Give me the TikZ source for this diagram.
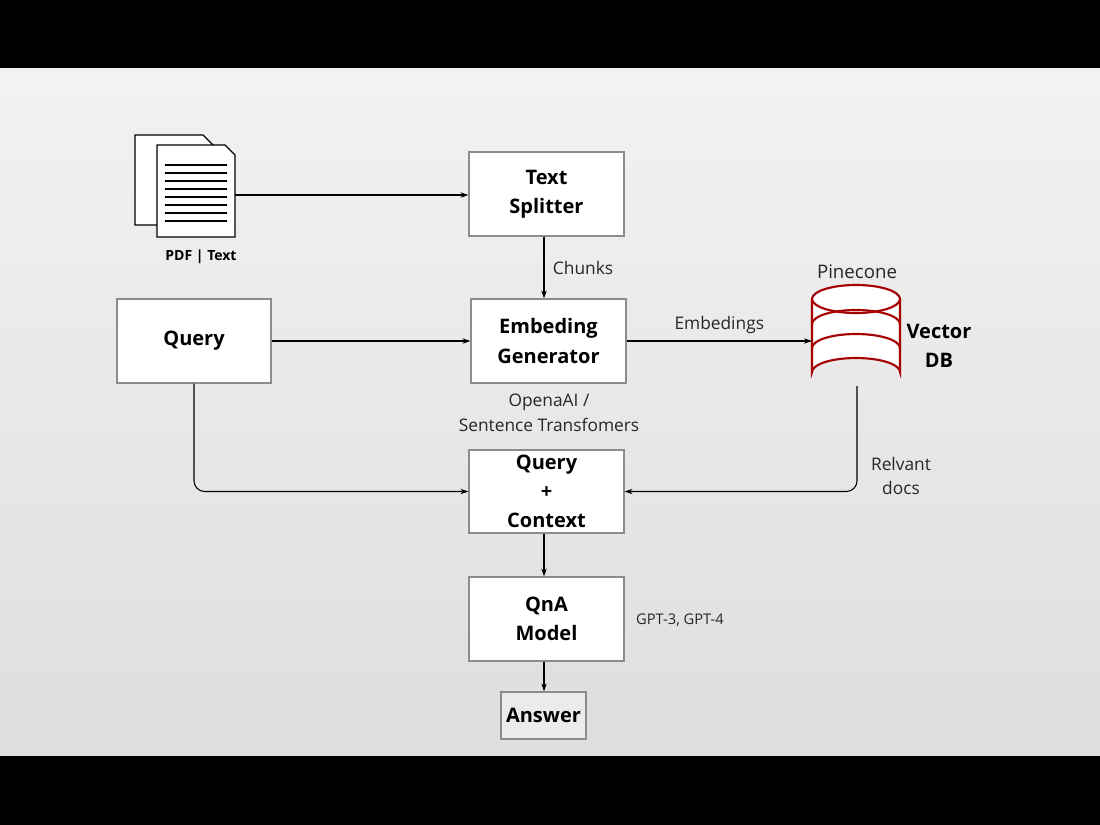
\documentclass[tikz,border=0pt]{standalone}
\usepackage{fontspec}
\setmainfont{Open Sans}
\usetikzlibrary{arrows.meta}
\begin{document}
\begin{tikzpicture}[x=0.75pt,y=-0.75pt,
  box/.style={draw=black!45,fill=white,line width=0.8pt,align=center,font=\bfseries\fontsize{15}{22}\selectfont,inner sep=0pt},
  lbl/.style={font=\fontsize{13}{18.5}\selectfont,align=center,text=black!85},
  arr/.style={-{Stealth[length=6pt,width=4pt]},line width=0.8pt},
  page/.style={draw=black,fill=white,line width=1pt}]
\useasboundingbox (0,0) rectangle (1100,825);
\fill[black] (0,0) rectangle (1100,825);
\shade[top color=black!5,bottom color=black!13] (0,68) rectangle (1100,755);
% document icon
\draw[page] (135,135) -- (203,135) -- (213,145) -- (213,225) -- (135,225) -- cycle;
\draw[page] (157,145) -- (225,145) -- (235,155) -- (235,237) -- (157,237) -- cycle;
\foreach \yy in {165,173,181,189,197,205,213,221} \draw[line width=1pt] (165,\yy) -- (227,\yy);
\node[font=\bfseries\fontsize{10.5}{13}\selectfont] (pdf) at (201,257) {PDF | Text};
\coordinate (docr) at (235,195);
% boxes
\node[box,minimum width=155*0.75pt,minimum height=84*0.75pt] (ts) at (546.5,194) {Text\\Splitter};
\node[box,minimum width=154*0.75pt,minimum height=84*0.75pt] (q) at (194,341) {Query};
\node[box,minimum width=155*0.75pt,minimum height=84*0.75pt] (eg) at (548.5,341) {Embeding\\Generator};
\node[box,minimum width=155*0.75pt,minimum height=83*0.75pt] (qc) at (546.5,491.5) {Query\\+\\Context};
\node[box,minimum width=155*0.75pt,minimum height=84*0.75pt] (qna) at (546.5,619) {QnA\\Model};
\node[box,fill=black!8,minimum width=85*0.75pt,minimum height=47*0.75pt] (ans) at (543.5,715.5) {Answer};
% cylinder
\begin{scope}[draw=red!65!black,line width=1.6pt]
\draw[fill=white] (812,299) -- (812,372) arc[start angle=180,end angle=360,x radius=44,y radius=14] -- (900,299);
\draw[fill=white] (856,299) ellipse[x radius=44,y radius=14];
\draw (812,324) arc[start angle=180,end angle=360,x radius=44,y radius=14];
\draw (812,348) arc[start angle=180,end angle=360,x radius=44,y radius=14];
\end{scope}
\coordinate (dbl) at (812,341);
\coordinate (dbb) at (857,386);
\node[lbl,font=\fontsize{14}{17}\selectfont] (pc) at (857,272) {Pinecone};
\node[box,draw=none,fill=none] (vdb) at (939,346) {Vector\\DB};
% arrows
\draw[arr] (docr) -- (ts.west|-docr);
\draw[arr] (ts.south-|544,0) -- (eg.north-|544,0) node[lbl,midway,right=3pt] (chk) {Chunks};
\draw[arr] (q.east) -- (eg.west);
\draw[arr] (eg.east) -- (dbl) node[lbl,midway,above=2pt] (emb) {Embedings};
\node[lbl] (oa) at (549,413) {OpenaAI /\\Sentence Transfomers};
\draw[arr,rounded corners=8pt] (q.south) |- (qc.west);
\draw[arr,rounded corners=8pt] (dbb) |- (qc.east);
\node[lbl] (rd) at (901,476) {Relvant\\docs};
\draw[arr] (qc.south-|544,0) -- (qna.north-|544,0);
\node[lbl,font=\fontsize{11}{14}\selectfont] (gpt) at (680,620) {GPT-3, GPT-4};
\draw[arr] (qna.south-|544,0) -- (ans.north-|544,0);
\end{tikzpicture}
\end{document}
